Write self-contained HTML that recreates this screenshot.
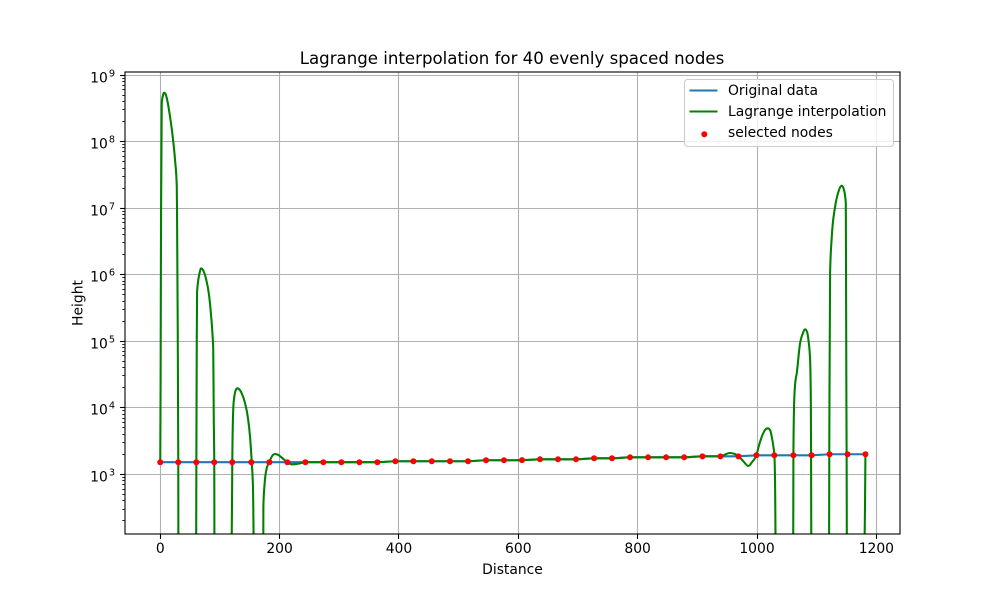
<!DOCTYPE html>
<html>
<head>
<meta charset="utf-8">
<title>Lagrange interpolation for 40 evenly spaced nodes</title>
<style>
html,body{margin:0;padding:0;background:#fff}
svg{display:block}
text{font-family:"DejaVu Sans","Liberation Sans",sans-serif;fill:#000}
</style>
</head>
<body>
<svg id="chart" xmlns="http://www.w3.org/2000/svg" width="1000" height="600" viewBox="0 0 1000 600">
<defs><clipPath id="plot-clip"><rect x="125" y="72" width="775" height="462"/></clipPath></defs>
<rect x="0" y="0" width="1000" height="600" fill="#fff"/>
<g id="grid"></g>
<g id="series" clip-path="url(#plot-clip)"></g>
<g id="axes"></g>
<text x="512" y="64" text-anchor="middle" font-size="16.62">Lagrange interpolation for 40 evenly spaced nodes</text>
<text x="512.5" y="574" text-anchor="middle" font-size="13.89">Distance</text>
<text x="0" y="0" transform="translate(82.5 303) rotate(-90)" text-anchor="middle" font-size="13.89">Height</text>
<g>
<rect x="684.5" y="79.5" width="209" height="67" rx="3" ry="3" fill="#fff" fill-opacity="0.8" stroke="#ccc" stroke-width="1.1"/>
<line x1="689.5" y1="90.5" x2="717.5" y2="90.5" stroke="#1f77b4" stroke-width="2.08"/>
<text x="728" y="95" font-size="13.89">Original data</text>
<line x1="689.5" y1="111.5" x2="717.5" y2="111.5" stroke="#008000" stroke-width="2.08"/>
<text x="728" y="116" font-size="13.89">Lagrange interpolation</text>
<circle cx="704.3" cy="134.3" r="3" fill="#f00"/>
<text x="728" y="137" font-size="13.89">selected nodes</text>
</g>
</svg>
<script>
const nodeDistance = [0,30.2,60.4,90.5,120.7,152.6,182.8,213,243.2,273.3,303.5,333.7,363.8,394,424.2,455,485.5,515.7,545.9,576,606.2,636.4,666.5,696.7,727,757,787.3,817.5,847.7,878,908.6,938.7,968.9,999,1029,1061,1091.5,1121.6,1151.7,1181.7];
const nodeHeight = [1520,1520,1520,1520,1520,1520,1520,1520,1520,1520,1520,1520,1520,1570,1570,1570,1570,1570,1625,1625,1630,1680,1680,1680,1740,1740,1800,1800,1800,1800,1862,1862,1862,1930,1930,1930,1930,2000,2000,2000];
const lagrangeDistance = [0,0.6,1.3,2.5,3.9,6.4,8.9,10.9,16.4,20.9,24.8,27.7,28.2,29,30.2,30.4,60.2,60.5,61.2,61.7,63.3,65.9,68.4,71.7,76.8,81.8,85.1,87.6,88.8,89.7,90.5,90.8,119.7,120.7,122.5,124.5,127,129.2,132,137,142,147,150.5,153.3,155.5,156.7,172.7,172.8,174.5,178.5,182.8,187.4,192.4,197.4,202.4,213,220.4,227.6,234.3,243.2,273.3,303.5,333.7,363.8,394,424.2,455,485.5,515.7,545.9,576,606.2,636.4,666.5,696.7,727,757,787.3,817.5,847.7,878,908.6,938.7,946.6,954,963.4,968.9,976.7,985.6,991.8,999,1003.5,1008,1013.5,1018,1021.9,1024.7,1027.8,1029.2,1030.4,1031.2,1060.7,1061,1062.2,1063.8,1066.7,1072.2,1076.4,1080.6,1084,1086.2,1089,1090.2,1090.6,1091,1120.8,1121.1,1121.4,1122.5,1125.3,1130.9,1136.4,1142.1,1146.5,1148.8,1149.3,1149.8,1150.2,1150.6,1180,1181.7];
const lagrangeHeight = [1520,26000,6.6e6,3.8e8,4.67e8,5.42e8,5.18e8,4.51e8,2.36e8,1.18e8,5.3e7,2.1e7,6.6e6,4.2e5,1520,100,100,1520,1.04e5,5.3e5,7.76e5,1.06e6,1.24e6,1.17e6,8.6e5,4.9e5,2.48e5,1.24e5,7.4e4,6500,1520,100,100,1520,1.03e4,15500,18800,19600,19100,16100,11800,7000,3630,1520,581,100,100,326,651,1244,1520,1880,2020,1960,1820,1520,1413,1425,1463,1520,1520,1520,1520,1520,1570,1570,1570,1570,1570,1625,1625,1630,1680,1680,1680,1740,1740,1800,1800,1800,1800,1862,1862,1985,2090,2010,1862,1585,1333,1530,1930,2755,3670,4630,4910,4630,3670,2484,1930,581,100,100,1930,11400,22000,33300,94000,1.28e5,1.51e5,1.37e5,1.04e5,5.2e4,13000,1950,100,100,1980,13000,1.06e6,3.7e6,1.05e7,1.76e7,2.17e7,1.76e7,1.18e7,5.3e5,13000,1980,100,100,2000];
const xTickValues = [0,200,400,600,800,1000,1200];
const yTickExponents = [3,4,5,6,7,8,9];
const yMinorFactors = [2,3,4,5,6,7,8,9];

const NS = 'http://www.w3.org/2000/svg';
const plot = {left:125, right:900, top:72, bottom:534};
function xScale(v){ return 160.25 + 0.59675 * v; }
function yScale(v){ return 474.3 - 66.55 * (Math.log10(v) - 3); }
function make(tag, attrs, parent){
  const el = document.createElementNS(NS, tag);
  for (const k in attrs) el.setAttribute(k, attrs[k]);
  parent.appendChild(el);
  return el;
}
function pathFrom(xs, ys){
  return xs.map((d,i)=>(i?'L':'M')+xScale(d).toFixed(2)+' '+yScale(ys[i]).toFixed(2)).join(' ');
}
function smoothPathFrom(xs, ys){
  const px = xs.map(xScale);
  const py = ys.map(yScale);
  const n = px.length;
  const h = [], s = [], t = new Array(n).fill(0);
  for (let i = 0; i < n-1; i++){
    h[i] = px[i+1]-px[i];
    s[i] = (py[i+1]-py[i])/h[i];
  }
  for (let i = 1; i < n-1; i++){
    if (s[i-1]*s[i] <= 0) { t[i] = 0; continue; }
    const p = (s[i-1]*h[i]+s[i]*h[i-1])/(h[i-1]+h[i]);
    t[i] = (Math.sign(s[i-1])+Math.sign(s[i]))*Math.min(Math.abs(s[i-1]),Math.abs(s[i]),0.5*Math.abs(p));
  }
  t[0] = (3*s[0]-t[1])/2;
  t[n-1] = (3*s[n-2]-t[n-2])/2;
  let d = 'M'+px[0].toFixed(2)+' '+py[0].toFixed(2);
  for (let i = 0; i < n-1; i++){
    const k = h[i]/3;
    d += ' C'+(px[i]+k).toFixed(2)+' '+(py[i]+k*t[i]).toFixed(2)+' '+(px[i+1]-k).toFixed(2)+' '+(py[i+1]-k*t[i+1]).toFixed(2)+' '+px[i+1].toFixed(2)+' '+py[i+1].toFixed(2);
  }
  return d;
}
const grid = document.getElementById('grid');
const series = document.getElementById('series');
const axes = document.getElementById('axes');

xTickValues.forEach(v=>{
  const x = Math.round(xScale(v)-0.5)+0.5;
  const g = make('line',{x1:x,x2:x,y1:plot.top,y2:plot.bottom,stroke:'#b0b0b0','stroke-width':1.1},grid);
  
  
  const t = make('line',{x1:x,x2:x,y1:plot.bottom,y2:plot.bottom+4.9,stroke:'#000','stroke-width':1.1},axes);
  
  
  const l = make('text',{x:xScale(v),y:553,'text-anchor':'middle','font-size':13.89},axes);
  
  
  l.textContent = String(v);
});
yTickExponents.forEach(e=>{
  const val = Math.pow(10,e);
  const y = Math.round(yScale(val)-0.5)+0.5;
  const g = make('line',{x1:plot.left,x2:plot.right,y1:y,y2:y,stroke:'#b0b0b0','stroke-width':1.1},grid);
  
  
  const t = make('line',{x1:plot.left-4.9,x2:plot.left,y1:y,y2:y,stroke:'#000','stroke-width':1.1},axes);
  
  
  const l = make('text',{x:115,y:y+6.8,'text-anchor':'end','font-size':13.89},axes);
  
  
  const base = make('tspan',{},l);
  base.textContent = '10';
  const sup = make('tspan',{dx:1,dy:-5.8,'font-size':9.72},l);
  sup.textContent = String(e);
});
[2].concat(yTickExponents).forEach(e=>{
  yMinorFactors.forEach(f=>{
    const val = f*Math.pow(10,e);
    const py = yScale(val);
    if (py < plot.top || py > plot.bottom) return;
    const y = Math.round(py-0.5)+0.5;
    const t = make('line',{x1:plot.left-2.8,x2:plot.left,y1:y,y2:y,stroke:'#000','stroke-width':0.83},axes);
    
    
  });
});

const original = make('path',{d:pathFrom(nodeDistance,nodeHeight),fill:'none',stroke:'#1f77b4','stroke-width':2.08,'stroke-linejoin':'round'},series);


const lagrange = make('path',{d:smoothPathFrom(lagrangeDistance,lagrangeHeight),fill:'none',stroke:'#008000','stroke-width':2.08,'stroke-linejoin':'round'},series);


nodeDistance.forEach((d,i)=>{
  const c = make('circle',{cx:xScale(d).toFixed(2),cy:yScale(nodeHeight[i]).toFixed(2),r:3,fill:'#f00'},series);
  
  
});

const frame = make('rect',{x:plot.left,y:plot.top,width:plot.right-plot.left,height:plot.bottom-plot.top,fill:'none',stroke:'#000','stroke-width':1.1},axes);


</script>
</body>
</html>
